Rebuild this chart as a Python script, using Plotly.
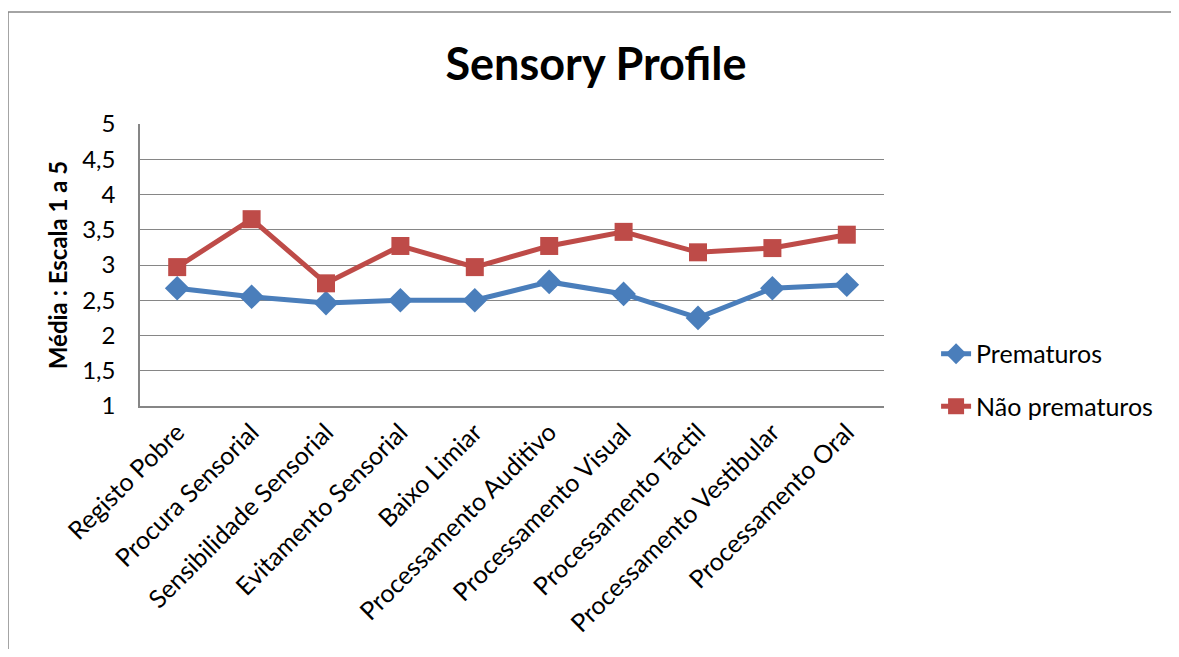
import plotly.graph_objects as go

categories = ["Registo Pobre", "Procura Sensorial", "Sensibilidade Sensorial",
              "Evitamento Sensorial", "Baixo Limiar", "Processamento Auditivo",
              "Processamento Visual", "Processamento Táctil",
              "Processamento Vestibular", "Processamento Oral"]
prematuros = [2.67, 2.55, 2.46, 2.50, 2.50, 2.76, 2.59, 2.25, 2.67, 2.72]
nao_prematuros = [2.97, 3.65, 2.74, 3.27, 2.97, 3.27, 3.47, 3.18, 3.24, 3.43]
y_ticks = [1, 1.5, 2, 2.5, 3, 3.5, 4, 4.5, 5]
y_tick_labels = ["1", "1,5", "2", "2,5", "3", "3,5", "4", "4,5", "5"]

FONT = "Lato"
FS = 24
fig = go.Figure()
fig.add_trace(go.Scatter(x=categories, y=prematuros, name="Prematuros",
                         legendgroup="a", mode="lines+markers",
                         line=dict(color="#4A7EBB", width=5),
                         marker=dict(symbol="diamond", size=19, color="#4A7EBB")))
fig.add_trace(go.Scatter(x=categories, y=nao_prematuros, name="Não prematuros",
                         legendgroup="b", mode="lines+markers",
                         line=dict(color="#BE4B48", width=5),
                         marker=dict(symbol="square", size=18, color="#BE4B48")))

fig.update_layout(
    width=1163, height=641,
    margin=dict(l=132, r=287, t=116, b=243),
    paper_bgcolor="white", plot_bgcolor="white",
    font=dict(family=FONT, color="black", size=FS),
    title=dict(text="<b>Sensory Profile</b>", x=0.5056, xanchor="center",
               y=0.9126, yanchor="middle", font=dict(size=45, family=FONT)),
    legend=dict(x=1.07, y=0.266, xanchor="left", yanchor="top",
                font=dict(size=25), tracegroupgap=17,
                bgcolor="rgba(0,0,0,0)"),
    showlegend=True,
)
fig.update_xaxes(showline=True, linecolor="#868686", linewidth=1.5,
                 showgrid=False, tickangle=-45, ticks="",
                 range=[-0.5, 9.5], tickfont=dict(size=25))
fig.update_yaxes(range=[1, 5], tickvals=y_ticks, ticktext=y_tick_labels,
                 showline=True, linecolor="#868686", linewidth=1.5,
                 showgrid=True, gridcolor="#868686", gridwidth=1.3,
                 ticks="", tickfont=dict(size=FS), ticklabelstandoff=18,
                 title=dict(text="<b>Média : Escala 1 a 5</b>",
                            font=dict(size=FS), standoff=8))
# outer chart frame (left and top edges visible)
fig.add_shape(type="line", xref="paper", yref="paper",
              x0=-132/744, x1=-132/744, y0=-1.0, y1=394/282,
              line=dict(color="#868686", width=1.5))
fig.add_shape(type="line", xref="paper", yref="paper",
              x0=-132/744, x1=(1163 - 132) / 744, y0=394/282, y1=394/282,
              line=dict(color="#868686", width=1.5))
fig.write_html("out.html")
